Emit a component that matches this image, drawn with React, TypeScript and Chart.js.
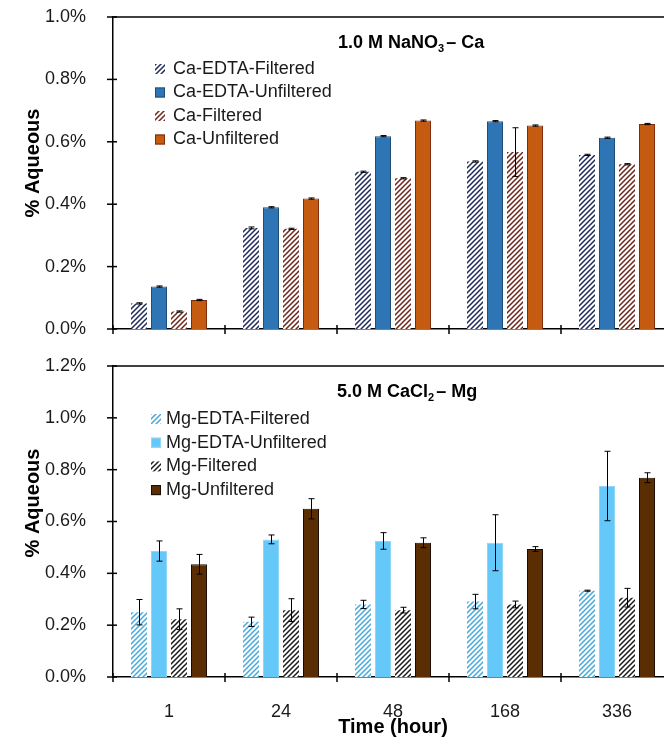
import React, { useEffect, useRef } from 'react';
import { Chart, registerables } from 'chart.js';

Chart.register(...registerables);

// ---------- data ----------
const categories = ['1', '24', '48', '168', '336'];

const caSeriesLabels = ['Ca-EDTA-Filtered', 'Ca-EDTA-Unfiltered', 'Ca-Filtered', 'Ca-Unfiltered'];
const caEdtaFiltered = [0.082, 0.324, 0.504, 0.537, 0.558];
const caEdtaUnfiltered = [0.136, 0.39, 0.618, 0.666, 0.613];
const caFiltered = [0.056, 0.321, 0.483, 0.567, 0.528];
const caUnfiltered = [0.093, 0.418, 0.668, 0.652, 0.657];
const caEdtaFilteredErr = [0.002, 0.003, 0.002, 0.002, 0.002];
const caEdtaUnfilteredErr = [0.002, 0.002, 0.002, 0.002, 0.002];
const caFilteredErr = [0.002, 0.002, 0.002, 0.078, 0.002];
const caUnfilteredErr = [0.002, 0.002, 0.002, 0.002, 0.002];

const mgSeriesLabels = ['Mg-EDTA-Filtered', 'Mg-EDTA-Unfiltered', 'Mg-Filtered', 'Mg-Unfiltered'];
const mgEdtaFiltered = [0.25, 0.213, 0.28, 0.291, 0.333];
const mgEdtaUnfiltered = [0.486, 0.531, 0.525, 0.518, 0.737];
const mgFiltered = [0.223, 0.258, 0.258, 0.28, 0.306];
const mgUnfiltered = [0.435, 0.649, 0.518, 0.494, 0.769];
const mgEdtaFilteredErr = [0.049, 0.018, 0.016, 0.028, 0.002];
const mgEdtaUnfilteredErr = [0.039, 0.017, 0.032, 0.108, 0.134];
const mgFilteredErr = [0.04, 0.044, 0.011, 0.013, 0.036];
const mgUnfilteredErr = [0.038, 0.039, 0.019, 0.009, 0.019];

const yMaxTop = 1.0;
const yMaxBottom = 1.2;
const yStep = 0.2;

const titleTop = ['1.0 M NaNO', '3', '– Ca'];
const titleBottom = ['5.0 M CaCl', '2', '– Mg'];
const yTitle = '% Aqueous';
const xTitle = 'Time (hour)';

const FONT = '"Liberation Sans", Arial, Helvetica, sans-serif';

function makeHatch(color: string): CanvasPattern {
  const s = 5;
  const c = document.createElement('canvas');
  c.width = s;
  c.height = s;
  const g = c.getContext('2d')!;
  g.fillStyle = '#ffffff';
  g.fillRect(0, 0, s, s);
  g.strokeStyle = color;
  g.lineWidth = 1.5;
  g.beginPath();
  g.moveTo(-1, s + 1);
  g.lineTo(s + 1, -1);
  g.moveTo(-1, 1);
  g.lineTo(1, -1);
  g.moveTo(s - 1, s + 1);
  g.lineTo(s + 1, s - 1);
  g.stroke();
  return g.createPattern(c, 'repeat')!;
}

type SeriesSpec = {
  label: string;
  data: number[];
  errors: number[];
  fill: any;
  border: string;
  borderWidth: number;
};

type PanelSpec = {
  series: SeriesSpec[];
  yMax: number;
  padTop: number;
  xHeight: number;
  showX: boolean;
  title: string[];
  titleX: number;
  titleBaseline: number;
  legendMarkerX: number;
  legendTextX: number;
  legendY0: number;
  legendGap: number;
  yTitleY: number;
  xTitleY: number | null;
};

function zeroPad(s: any) {
  s.paddingTop = 0;
  s.paddingBottom = 0;
  s.paddingLeft = 0;
  s.paddingRight = 0;
}

function buildChart(canvas: HTMLCanvasElement, spec: PanelSpec) {
  const decor = {
    id: 'decor',
    afterDatasetsDraw(chart: any) {
      const ctx = chart.ctx;
      const yScale = chart.scales.y;
      ctx.save();
      ctx.strokeStyle = '#000';
      ctx.lineWidth = 1;
      chart.data.datasets.forEach((ds: any, i: number) => {
        const meta = chart.getDatasetMeta(i);
        meta.data.forEach((el: any, j: number) => {
          const v = ds.data[j];
          const e = ds.errors[j];
          const yT = yScale.getPixelForValue(v + e);
          const yB = yScale.getPixelForValue(v - e);
          const x = Math.round(el.x) + 0.5;
          ctx.beginPath();
          ctx.moveTo(x, yT);
          ctx.lineTo(x, yB);
          ctx.moveTo(x - 3, yT);
          ctx.lineTo(x + 3, yT);
          ctx.moveTo(x - 3, yB);
          ctx.lineTo(x + 3, yB);
          ctx.stroke();
        });
      });
      ctx.restore();
    },
    afterDraw(chart: any) {
      const ctx = chart.ctx;
      const area = chart.chartArea;
      const xScale = chart.scales.x;
      const yScale = chart.scales.y;
      ctx.save();
      // top frame line
      ctx.strokeStyle = '#000';
      ctx.lineWidth = 1.5;
      ctx.beginPath();
      ctx.moveTo(area.left, area.top);
      ctx.lineTo(area.right, area.top);
      ctx.stroke();
      // cross tick marks on y axis
      yScale.ticks.forEach((t: any) => {
        const y = yScale.getPixelForValue(t.value);
        ctx.beginPath();
        ctx.moveTo(area.left - 6, y);
        ctx.lineTo(area.left + 4, y);
        ctx.stroke();
      });
      // cross tick marks on x axis at category boundaries
      const n = chart.data.labels.length;
      for (let i = 0; i <= n; i++) {
        const x = xScale.left + (i * xScale.width) / n;
        ctx.beginPath();
        ctx.moveTo(x, area.bottom - 4);
        ctx.lineTo(x, area.bottom + 5);
        ctx.stroke();
      }
      // legend
      ctx.font = `18px ${FONT}`;
      ctx.textBaseline = 'middle';
      ctx.textAlign = 'left';
      chart.data.datasets.forEach((ds: any, i: number) => {
        const y = spec.legendY0 + i * spec.legendGap;
        ctx.fillStyle = ds.backgroundColor;
        ctx.fillRect(spec.legendMarkerX, y - 5, 10, 10);
        if (ds.borderWidth > 0) {
          ctx.strokeStyle = ds.borderColor;
          ctx.lineWidth = 1;
          ctx.strokeRect(spec.legendMarkerX + 0.5, y - 4.5, 9, 9);
        }
        ctx.fillStyle = '#1a1a1a';
        ctx.fillText(ds.label, spec.legendTextX, y);
      });
      // panel title with subscript
      ctx.fillStyle = '#000';
      ctx.textBaseline = 'alphabetic';
      let tx = spec.titleX;
      ctx.font = `bold 18px ${FONT}`;
      ctx.fillText(spec.title[0], tx, spec.titleBaseline);
      tx += ctx.measureText(spec.title[0]).width;
      ctx.font = `bold 11px ${FONT}`;
      ctx.fillText(spec.title[1], tx, spec.titleBaseline + 4);
      tx += ctx.measureText(spec.title[1]).width + 2;
      ctx.font = `bold 18px ${FONT}`;
      ctx.fillText(spec.title[2], tx, spec.titleBaseline);
      // y title
      ctx.save();
      ctx.translate(33, spec.yTitleY);
      ctx.rotate(-Math.PI / 2);
      ctx.font = `bold 20px ${FONT}`;
      ctx.textAlign = 'center';
      ctx.textBaseline = 'middle';
      ctx.fillText(yTitle, 0, 0);
      ctx.restore();
      // x title
      if (spec.xTitleY !== null) {
        ctx.font = `bold 20px ${FONT}`;
        ctx.textAlign = 'center';
        ctx.textBaseline = 'middle';
        ctx.fillText(xTitle, (area.left + area.right) / 2, spec.xTitleY);
      }
      ctx.restore();
    },
  };

  return new Chart(canvas, {
    type: 'bar',
    data: {
      labels: categories,
      datasets: spec.series.map((s) => ({
        label: s.label,
        data: s.data,
        errors: s.errors,
        backgroundColor: s.fill,
        borderColor: s.border,
        borderWidth: s.borderWidth,
        categoryPercentage: 0.714,
        barPercentage: 0.8,
      })) as any,
    },
    options: {
      responsive: false,
      animation: false,
      devicePixelRatio: 1,
      layout: { padding: { top: spec.padTop, right: 7, left: 0, bottom: 0 } },
      plugins: {
        legend: { display: false },
        tooltip: { enabled: false },
        title: { display: false },
      },
      scales: {
        x: {
          grid: { display: false },
          border: { display: true, color: '#000', width: 1.5 },
          ticks: {
            display: spec.showX,
            font: { family: FONT, size: 18 },
            color: '#1a1a1a',
            padding: 16,
            maxRotation: 0,
            autoSkip: false,
          },
          afterFit: (s: any) => {
            s.height = spec.xHeight;
            zeroPad(s);
          },
        },
        y: {
          min: 0,
          max: spec.yMax,
          grid: { display: false },
          border: { display: true, color: '#000', width: 1.5 },
          ticks: {
            stepSize: yStep,
            font: { family: FONT, size: 18 },
            color: '#1a1a1a',
            padding: 19,
            callback: (v: any) => Number(v).toFixed(1) + '%',
          },
          afterFit: (s: any) => {
            s.width = 113;
            zeroPad(s);
          },
        },
      },
    } as any,
    plugins: [decor],
  });
}

export default function App() {
  const topRef = useRef<HTMLCanvasElement>(null);
  const botRef = useRef<HTMLCanvasElement>(null);

  useEffect(() => {
    const topSeries: SeriesSpec[] = [
      { label: caSeriesLabels[0], data: caEdtaFiltered, errors: caEdtaFilteredErr, fill: makeHatch('#1f2a5c'), border: '#1f2a5c', borderWidth: 0 },
      { label: caSeriesLabels[1], data: caEdtaUnfiltered, errors: caEdtaUnfilteredErr, fill: '#2e75b6', border: '#1f4e79', borderWidth: 1 },
      { label: caSeriesLabels[2], data: caFiltered, errors: caFilteredErr, fill: makeHatch('#6e2418'), border: '#6e2418', borderWidth: 0 },
      { label: caSeriesLabels[3], data: caUnfiltered, errors: caUnfilteredErr, fill: '#c55a11', border: '#7b2c0c', borderWidth: 1 },
    ];
    const botSeries: SeriesSpec[] = [
      { label: mgSeriesLabels[0], data: mgEdtaFiltered, errors: mgEdtaFilteredErr, fill: makeHatch('#45a9dc'), border: '#45a9dc', borderWidth: 0 },
      { label: mgSeriesLabels[1], data: mgEdtaUnfiltered, errors: mgEdtaUnfilteredErr, fill: '#64c8f8', border: '#8fd6f8', borderWidth: 1 },
      { label: mgSeriesLabels[2], data: mgFiltered, errors: mgFilteredErr, fill: makeHatch('#1a1a1a'), border: '#1a1a1a', borderWidth: 0 },
      { label: mgSeriesLabels[3], data: mgUnfiltered, errors: mgUnfilteredErr, fill: '#5a2d02', border: '#1a0c00', borderWidth: 1 },
    ];

    const c1 = buildChart(topRef.current!, {
      series: topSeries,
      yMax: yMaxTop,
      padTop: 17,
      xHeight: 16,
      showX: false,
      title: titleTop,
      titleX: 338,
      titleBaseline: 48,
      legendMarkerX: 155,
      legendTextX: 173,
      legendY0: 69,
      legendGap: 23.5,
      yTitleY: 163,
      xTitleY: null,
    });
    const c2 = buildChart(botRef.current!, {
      series: botSeries,
      yMax: yMaxBottom,
      padTop: 21,
      xHeight: 68,
      showX: true,
      title: titleBottom,
      titleX: 337,
      titleBaseline: 52,
      legendMarkerX: 151,
      legendTextX: 166,
      legendY0: 74,
      legendGap: 23.7,
      yTitleY: 158,
      xTitleY: 382,
    });
    return () => {
      c1.destroy();
      c2.destroy();
    };
  }, []);

  return (
    <div
      style={{
        position: 'fixed',
        left: 0,
        top: 0,
        width: 664,
        height: 745,
        overflow: 'hidden',
        background: '#fff',
      }}
    >
      <canvas
        ref={topRef}
        width={680}
        height={345}
        style={{ position: 'absolute', left: 0, top: 0, width: 680, height: 345 }}
      />
      <canvas
        ref={botRef}
        width={680}
        height={400}
        style={{ position: 'absolute', left: 0, top: 345, width: 680, height: 400 }}
      />
    </div>
  );
}
